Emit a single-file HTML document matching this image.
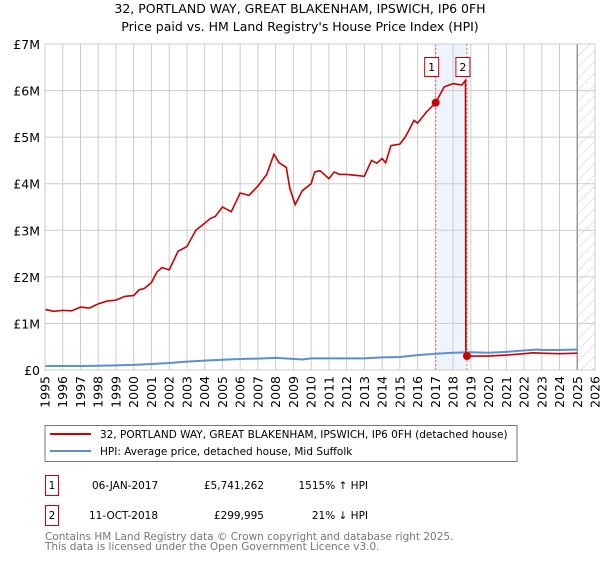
<!DOCTYPE html>
<html><head><meta charset="utf-8"><style>
body{margin:0;background:#fff;font-family:"DejaVu Sans","Liberation Sans",sans-serif}
svg text{font-family:"DejaVu Sans","Liberation Sans",sans-serif}
</style></head><body>
<svg id="c" width="600" height="560" viewBox="0 0 600 560">
<text x="300" y="13" text-anchor="middle" font-size="12.5">32, PORTLAND WAY, GREAT BLAKENHAM, IPSWICH, IP6 0FH</text>
<text x="300" y="31" text-anchor="middle" font-size="12.5">Price paid vs. HM Land Registry's House Price Index (HPI)</text>
<g id="grid"></g><g id="marks"></g>
<rect x="45" y="425.5" width="472" height="36" fill="#fff" stroke="#777"/>
<line x1="50" y1="434" x2="91" y2="434" stroke="#cc0000" stroke-width="2"/>
<text x="100" y="438" font-size="10.5">32, PORTLAND WAY, GREAT BLAKENHAM, IPSWICH, IP6 0FH (detached house)</text>
<line x1="50" y1="451" x2="91" y2="451" stroke="#5b8fd1" stroke-width="2"/>
<text x="100" y="455" font-size="10.5">HPI: Average price, detached house, Mid Suffolk</text>
<rect x="45.5" y="475.5" width="13" height="20" fill="#fff" stroke="#cc0000"/>
<text x="52" y="489" font-size="10.5" text-anchor="middle">1</text>
<text x="92" y="489" font-size="10.5">06-JAN-2017</text>
<text x="264" y="489" font-size="10.5" text-anchor="end">£5,741,262</text>
<text x="368" y="489" font-size="10.5" text-anchor="end">1515% ↑ HPI</text>
<rect x="45.5" y="505.5" width="13" height="20" fill="#fff" stroke="#cc0000"/>
<text x="52" y="519" font-size="10.5" text-anchor="middle">2</text>
<text x="89" y="519" font-size="10.5">11-OCT-2018</text>
<text x="264" y="519" font-size="10.5" text-anchor="end">£299,995</text>
<text x="368" y="519" font-size="10.5" text-anchor="end">21% ↓ HPI</text>
<text x="45" y="540" font-size="10.5" fill="#777">Contains HM Land Registry data © Crown copyright and database right 2025.</text>
<text x="45" y="550" font-size="10.5" fill="#777">This data is licensed under the Open Government Licence v3.0.</text>
</svg>
<script>
const yTicks=[0,1,2,3,4,5,6,7];
const yTickLabels=["£0","£1M","£2M","£3M","£4M","£5M","£6M","£7M"];
const xYears=[1995,1996,1997,1998,1999,2000,2001,2002,2003,2004,2005,2006,2007,2008,2009,2010,2011,2012,2013,2014,2015,2016,2017,2018,2019,2020,2021,2022,2023,2024,2025,2026];
const redT=[1995,1995.5,1996,1996.5,1997,1997.5,1998,1998.5,1999,1999.5,2000,2000.3,2000.6,2001,2001.3,2001.6,2002,2002.5,2003,2003.5,2004,2004.3,2004.6,2005,2005.5,2006,2006.5,2007,2007.5,2007.9,2008.2,2008.6,2008.8,2009.1,2009.5,2010,2010.2,2010.5,2011,2011.3,2011.6,2012,2012.5,2013,2013.4,2013.7,2014,2014.2,2014.5,2015,2015.3,2015.5,2015.8,2016,2016.5,2017.02,2017.5,2018,2018.5,2018.7,2018.72,2019,2020,2021,2022,2022.5,2023,2024,2025];
const redV=[1.3,1.26,1.28,1.27,1.35,1.33,1.42,1.48,1.5,1.58,1.6,1.72,1.75,1.88,2.1,2.2,2.15,2.55,2.65,3.0,3.15,3.25,3.3,3.5,3.4,3.8,3.75,3.95,4.2,4.63,4.45,4.35,3.9,3.55,3.85,4.0,4.25,4.28,4.11,4.25,4.2,4.2,4.18,4.16,4.5,4.44,4.54,4.45,4.82,4.85,5.0,5.14,5.36,5.3,5.54,5.74,6.08,6.15,6.12,6.22,0.3,0.3,0.3,0.32,0.35,0.37,0.36,0.35,0.36];
const hpiT=[1995,1996,1997,1998,1999,2000,2001,2002,2003,2004,2005,2006,2007,2008,2009,2009.5,2010,2011,2012,2013,2014,2015,2016,2017,2018,2019,2020,2021,2022,2022.8,2023,2024,2025];
const hpiV=[0.085,0.085,0.087,0.09,0.1,0.11,0.13,0.15,0.18,0.2,0.22,0.235,0.245,0.26,0.24,0.225,0.25,0.25,0.25,0.25,0.27,0.28,0.32,0.35,0.37,0.38,0.37,0.39,0.42,0.44,0.43,0.43,0.44];
const sales=[[2017.02,5.741262],[2018.78,0.299995]];
const X=t=>45+(t-1995)*(550/31), Y=v=>370-v*(326/7);
const NS="http://www.w3.org/2000/svg";
function mk(p,tag,a){const e=document.createElementNS(NS,tag);for(const k in a)e.setAttribute(k,a[k]);p.appendChild(e);return e;}
const g=document.getElementById('grid'),m=document.getElementById('marks');
const band=mk(g,'rect',{x:X(sales[0][0]),y:44,width:X(sales[1][0])-X(sales[0][0]),height:326,fill:'#eef3fc'});

xYears.forEach(y=>{const l=mk(g,'line',{x1:X(y),x2:X(y),y1:44,y2:370,stroke:'#ccc'});

const t=mk(g,'text',{x:0,y:0,'font-size':12.5,transform:`translate(${X(y)+4.5},${376}) rotate(-90)`,'text-anchor':'end'});t.textContent=y;
});
yTicks.forEach((v,i)=>{const l=mk(g,'line',{x1:45,x2:595,y1:Y(v),y2:Y(v),stroke:'#ccc'});

const t=mk(g,'text',{x:40,y:Y(v)+5,'font-size':12.5,'text-anchor':'end'});t.textContent=yTickLabels[i];
});
const defs=mk(g,'defs',{});const pat=mk(defs,'pattern',{id:'h',width:8,height:8,patternUnits:'userSpaceOnUse',patternTransform:'rotate(45)'});
mk(pat,'line',{x1:0,y1:0,x2:0,y2:8,stroke:'#ccc','stroke-width':1});
const hat=mk(g,'rect',{x:X(2025),y:44,width:X(2026)-X(2025),height:326,fill:'url(#h)'});

const fl=mk(g,'line',{x1:X(2025),x2:X(2025),y1:44,y2:370,stroke:'#999','stroke-width':1.5});

sales.forEach((s,i)=>{const l=mk(m,'line',{x1:X(s[0]),x2:X(s[0]),y1:44,y2:370,stroke:'#e66','stroke-dasharray':'2,2'});
});
const hp=mk(m,'polyline',{points:hpiT.map((t,i)=>X(t)+','+Y(hpiV[i])).join(' '),fill:'none',stroke:'#5b8fd1','stroke-width':2});

const rp=mk(m,'polyline',{points:redT.map((t,i)=>X(t)+','+Y(redV[i])).join(' '),fill:'none',stroke:'#cc0000','stroke-width':1.6});

sales.forEach((s,i)=>{const c=mk(m,'circle',{cx:X(s[0]),cy:Y(s[1]),r:4,fill:'#cc0000'});

const bx=X(s[0])-11;const r=mk(m,'rect',{x:bx,y:57.5,width:14,height:19,fill:'#fff',stroke:'#cc0000'});

const t=mk(m,'text',{x:bx+7,y:71,'font-size':11,'text-anchor':'middle'});t.textContent=i+1;
});
const ax=mk(m,'rect',{x:45,y:44,width:550,height:326,fill:'none',stroke:'#ccc'});

</script>
</body></html>
